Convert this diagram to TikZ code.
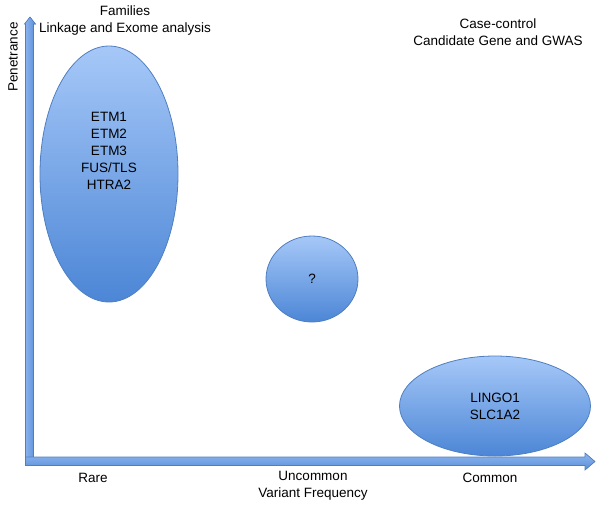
\documentclass[tikz,border=0pt]{standalone}
\usepackage{fontspec}
\setmainfont{Liberation Sans}
\usetikzlibrary{shapes.geometric}
\definecolor{eltop}{HTML}{A6C8F8}
\definecolor{elbot}{HTML}{4C86D6}
\definecolor{eldraw}{HTML}{4F7FC0}
\definecolor{artop}{HTML}{8EB6EF}
\definecolor{arbot}{HTML}{5A8ED8}
\tikzset{
  blob/.style={ellipse, draw=eldraw, line width=0.8pt, top color=eltop, bottom color=elbot, inner sep=0pt},
  lbl/.style={font=\fontsize{13.5}{17}\selectfont, align=center, text=black, inner sep=0pt},
  harrow/.style={draw=eldraw, line width=0.6pt, top color=artop, bottom color=arbot},
  varrow/.style={draw=eldraw, line width=0.6pt, left color=artop, right color=arbot}
}
\begin{document}
\begin{tikzpicture}[x=1pt,y=-1pt]
\useasboundingbox (0,0) rectangle (604,509);
% axes
\fill[varrow] (25.5,465) -- (25.5,24) -- (24.5,24) -- (30,17) -- (35.5,24) -- (33.5,24) -- (33.5,465) -- cycle;
\fill[harrow] (25.5,457) -- (585,457) -- (585,453) -- (595,461.5) -- (585,470) -- (585,465.5) -- (25.5,465.5) -- cycle;
% ellipses
\node[blob, minimum width=138pt, minimum height=256pt] (big) at (109,174) {};
\node[lbl] (bigt) at (109,151) {ETM1\\ETM2\\ETM3\\FUS/TLS\\HTRA2};
\node[blob, minimum width=92pt, minimum height=86pt] (mid) at (312,279) {};
\node[lbl] (midt) at (312,279) {?};
\node[blob, minimum width=191pt, minimum height=100pt] (low) at (495,406) {};
\node[lbl] (lowt) at (495,406) {LINGO1\\SLC1A2};
% labels
\node[lbl] (fam) at (125,20.5) {Families\\Linkage and Exome analysis};
\node[lbl] (cc) at (498,32.5) {Case-control\\Candidate Gene and GWAS};
\node[lbl, rotate=90] (pen) at (13,57) {Penetrance};
\node[lbl] (rare) at (93,478) {Rare};
\node[lbl] (unc) at (313,486) {Uncommon\\Variant Frequency};
\node[lbl] (com) at (490,478) {Common};
\end{tikzpicture}
\end{document}
